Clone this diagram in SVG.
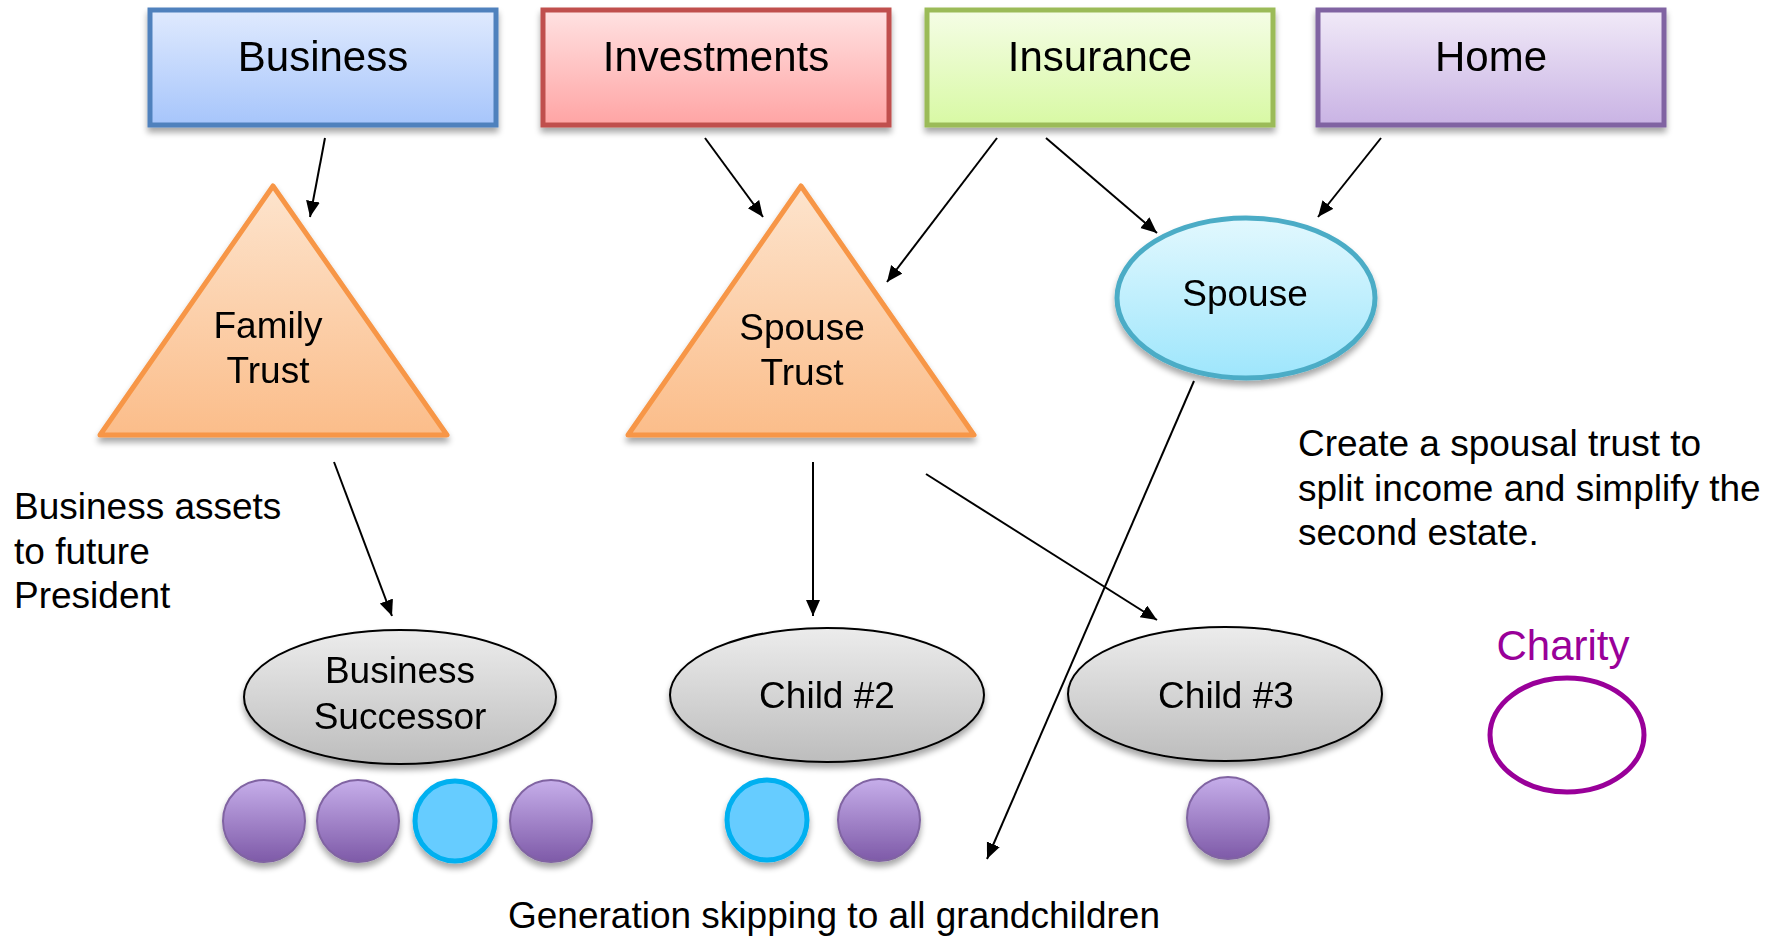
<svg xmlns="http://www.w3.org/2000/svg" width="1771" height="937" viewBox="0 0 1771 937">
<style>
text{font-family:"Liberation Sans",Arial,sans-serif;fill:#000}
.t42{font-size:42px;text-anchor:middle}
.t37{font-size:37px;text-anchor:middle}
.note{font-size:37px}
.conn line{stroke:#000;stroke-width:2;marker-end:url(#ah)}
.gc{stroke:#8064a2;stroke-width:2;fill:url(#gPur)}
.gb{stroke:#00b0f0;stroke-width:5;fill:#66ccff}
.gray{stroke:#000;stroke-width:2;fill:url(#gGray)}
</style>
<defs>
<marker id="ah" markerUnits="userSpaceOnUse" markerWidth="18" markerHeight="16" refX="16" refY="7" orient="auto">
<path d="M0,0 L16,7 L0,14 z" fill="#000"/>
</marker>
<filter id="sh" x="-20%" y="-20%" width="140%" height="150%">
<feGaussianBlur in="SourceAlpha" stdDeviation="3"/>
<feOffset dx="0" dy="5" result="b"/>
<feComponentTransfer><feFuncA type="linear" slope="0.35"/></feComponentTransfer>
<feMerge><feMergeNode/><feMergeNode in="SourceGraphic"/></feMerge>
</filter>
<linearGradient id="gBus" x1="0" y1="0" x2="0" y2="1"><stop offset="0" stop-color="#e0eafe"/><stop offset="1" stop-color="#a6c5fb"/></linearGradient>
<linearGradient id="gInv" x1="0" y1="0" x2="0" y2="1"><stop offset="0" stop-color="#ffe2e2"/><stop offset="1" stop-color="#ffa4a4"/></linearGradient>
<linearGradient id="gIns" x1="0" y1="0" x2="0" y2="1"><stop offset="0" stop-color="#f5fde6"/><stop offset="1" stop-color="#d8f9a4"/></linearGradient>
<linearGradient id="gHome" x1="0" y1="0" x2="0" y2="1"><stop offset="0" stop-color="#f1eaf8"/><stop offset="1" stop-color="#c9b3e4"/></linearGradient>
<linearGradient id="gTri" x1="0" y1="0" x2="0" y2="1"><stop offset="0" stop-color="#fde4cd"/><stop offset="1" stop-color="#fbbd8a"/></linearGradient>
<linearGradient id="gSp" x1="0" y1="0" x2="0" y2="1"><stop offset="0" stop-color="#e2f8fe"/><stop offset="1" stop-color="#9ee6fc"/></linearGradient>
<linearGradient id="gGray" x1="0" y1="0" x2="0" y2="1"><stop offset="0" stop-color="#ececec"/><stop offset="1" stop-color="#bdbdbd"/></linearGradient>
<linearGradient id="gPur" x1="0" y1="0" x2="0" y2="1"><stop offset="0" stop-color="#c6aeea"/><stop offset="1" stop-color="#7e5aa8"/></linearGradient>
</defs>

<g id="business" filter="url(#sh)">
<rect x="150" y="10" width="346" height="115" fill="url(#gBus)" stroke="#4f81bd" stroke-width="5"/>
<text class="t42" x="323" y="71">Business</text>
</g>
<g id="investments" filter="url(#sh)">
<rect x="543" y="10" width="346" height="115" fill="url(#gInv)" stroke="#c0504d" stroke-width="5"/>
<text class="t42" x="716" y="71">Investments</text>
</g>
<g id="insurance" filter="url(#sh)">
<rect x="927" y="10" width="346" height="115" fill="url(#gIns)" stroke="#9bbb59" stroke-width="5"/>
<text class="t42" x="1100" y="71">Insurance</text>
</g>
<g id="home" filter="url(#sh)">
<rect x="1318" y="10" width="346" height="115" fill="url(#gHome)" stroke="#8064a2" stroke-width="5"/>
<text class="t42" x="1491" y="71">Home</text>
</g>

<g id="family-trust" filter="url(#sh)">
<polygon points="273,186 447,435 100,435" fill="url(#gTri)" stroke="#f79646" stroke-width="5" stroke-linejoin="round"/>
<text class="t37" x="268" y="338">Family</text>
<text class="t37" x="268" y="383">Trust</text>
</g>
<g id="spouse-trust" filter="url(#sh)">
<polygon points="801,186 974,435 628,435" fill="url(#gTri)" stroke="#f79646" stroke-width="5" stroke-linejoin="round"/>
<text class="t37" x="802" y="340">Spouse</text>
<text class="t37" x="802" y="385">Trust</text>
</g>

<g id="spouse" filter="url(#sh)">
<ellipse cx="1246" cy="298" rx="129" ry="80" fill="url(#gSp)" stroke="#4bacc6" stroke-width="5"/>
<text class="t37" x="1245" y="306">Spouse</text>
</g>

<g id="business-successor" filter="url(#sh)">
<ellipse class="gray" cx="400" cy="697" rx="156" ry="67"/>
<text class="t37" x="400" y="683">Business</text>
<text class="t37" x="400" y="729">Successor</text>
</g>
<g id="child2" filter="url(#sh)">
<ellipse class="gray" cx="827" cy="695" rx="157" ry="67"/>
<text class="t37" x="827" y="708">Child #2</text>
</g>
<g id="child3" filter="url(#sh)">
<ellipse class="gray" cx="1225" cy="694" rx="157" ry="67"/>
<text class="t37" x="1226" y="708">Child #3</text>
</g>

<g id="grandchildren" filter="url(#sh)">
<circle class="gc" cx="264" cy="821" r="41"/>
<circle class="gc" cx="358" cy="821" r="41"/>
<circle class="gb" cx="455" cy="821" r="40"/>
<circle class="gc" cx="551" cy="821" r="41"/>
<circle class="gb" cx="767" cy="820" r="40"/>
<circle class="gc" cx="879" cy="820" r="41"/>
<circle class="gc" cx="1228" cy="818" r="41"/>
</g>

<g id="charity">
<text x="1563" y="660" style="font-size:42px;text-anchor:middle;fill:#990099">Charity</text>
<ellipse cx="1567" cy="735" rx="77" ry="57" fill="none" stroke="#990099" stroke-width="5"/>
</g>

<g id="notes">
<text class="note" x="14" y="519">Business assets</text>
<text class="note" x="14" y="564">to future</text>
<text class="note" x="14" y="608">President</text>
<text class="note" x="1298" y="456">Create a spousal trust to</text>
<text class="note" x="1298" y="501">split income and simplify the</text>
<text class="note" x="1298" y="545">second estate.</text>
<text class="t37" x="834" y="928">Generation skipping to all grandchildren</text>
</g>

<g id="connectors" class="conn">
<line x1="325" y1="138" x2="310" y2="217"/>
<line x1="705" y1="138" x2="763" y2="217"/>
<line x1="997" y1="138" x2="887" y2="282"/>
<line x1="1046" y1="138" x2="1157" y2="233"/>
<line x1="1381" y1="138" x2="1318" y2="217"/>
<line x1="1194" y1="381" x2="987" y2="859"/>
<line x1="334" y1="462" x2="392" y2="616"/>
<line x1="813" y1="462" x2="813" y2="616"/>
<line x1="926" y1="474" x2="1157" y2="620"/>
</g>
</svg>
